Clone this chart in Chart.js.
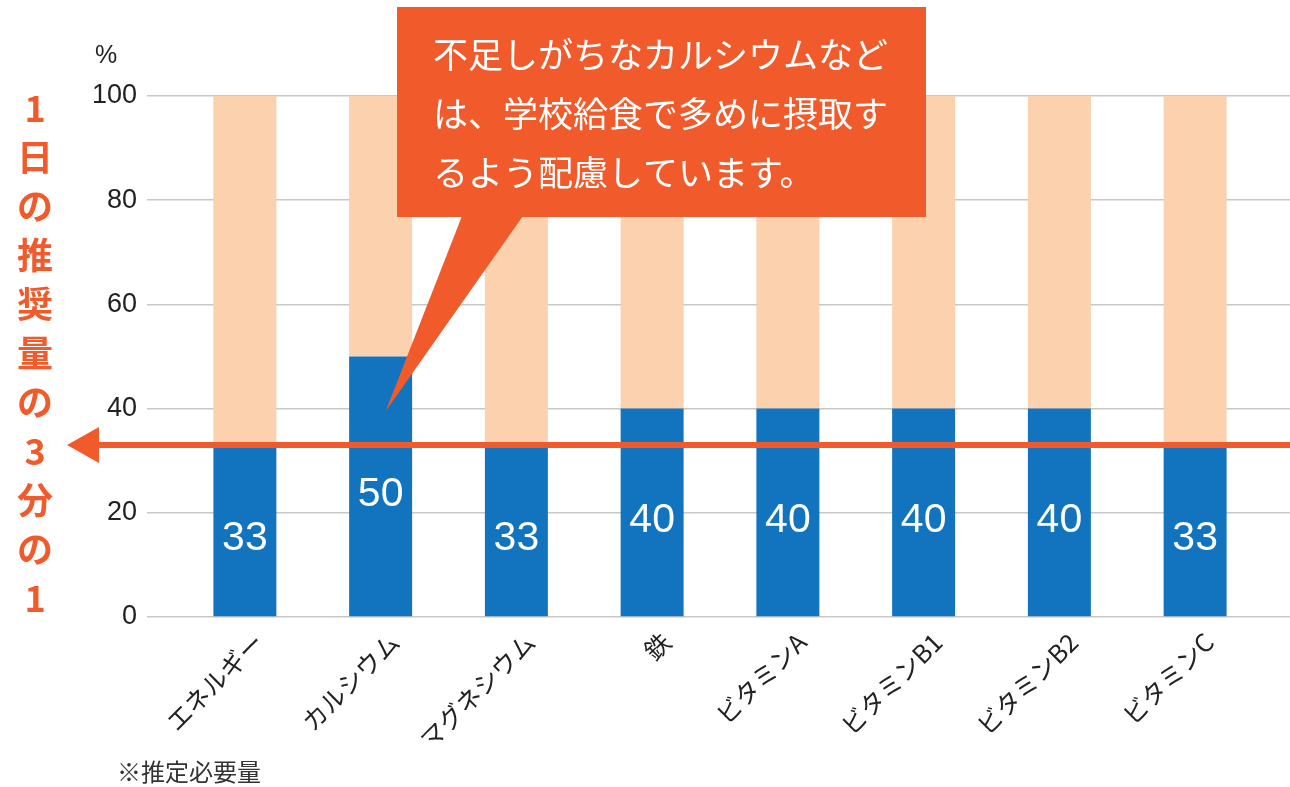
<!DOCTYPE html>
<html>
<head>
<meta charset="utf-8">
<script src="https://cdn.jsdelivr.net/npm/chart.js@4.4.0/dist/chart.umd.min.js"></script>
<style>
  html, body { margin: 0; padding: 0; background: #fff; }
  #wrap { width: 1290px; height: 787px; position: relative; }
</style>
</head>
<body>
<div id="wrap"><canvas id="chart" width="1290" height="787"></canvas></div>
<script>
// data
var categories = ["エネルギー", "カルシウム", "マグネシウム", "鉄", "ビタミンA", "ビタミンB1", "ビタミンB2", "ビタミンC"];
var intakeValues = [33, 50, 33, 40, 40, 40, 40, 33];
var restValues = [67, 50, 67, 60, 60, 60, 60, 67];
var targetLine = 33;
var sideLabel = ["1", "日", "の", "推", "奨", "量", "の", "3", "分", "の", "1"];
var calloutLines = ["不足しがちなカルシウムなど", "は、学校給食で多めに摂取す", "るよう配慮しています。"];
var unitLabel = "%";
var footnote = "※推定必要量";

var BLUE = "#1273be";
var PEACH = "#fbd1ae";
var ORANGE = "#f15a2b";
var GRID = "#c8c8c8";
var JP = '"Noto Sans CJK JP", "Noto Sans", sans-serif';
var NUM = '"Liberation Sans", Arial, sans-serif';

var overlay = {
  id: "overlay",
  afterDatasetsDraw: function (chart) {
    var ctx = chart.ctx;
    var x = chart.scales.x;
    var y = chart.scales.y;
    ctx.save();

    // numbers inside the blue bars
    var meta = chart.getDatasetMeta(0);
    ctx.fillStyle = "#fff";
    ctx.font = "41px " + NUM;
    ctx.textAlign = "center";
    ctx.textBaseline = "middle";
    meta.data.forEach(function (bar, i) {
      ctx.fillText(String(intakeValues[i]), bar.x, (bar.y + bar.base) / 2 + 8);
    });

    // 1/3 arrow
    var ay = y.getPixelForValue(targetLine);
    ctx.strokeStyle = ORANGE;
    ctx.fillStyle = ORANGE;
    ctx.lineWidth = 6;
    ctx.beginPath();
    ctx.moveTo(95, ay);
    ctx.lineTo(chart.width, ay);
    ctx.stroke();
    ctx.beginPath();
    ctx.moveTo(67, ay);
    ctx.lineTo(99, ay - 18);
    ctx.lineTo(99, ay + 18);
    ctx.closePath();
    ctx.fill();

    // callout box with pointer to calcium bar
    var tipX = x.getPixelForValue(1) + 5;
    var tipY = y.getPixelForValue(39.5);
    ctx.beginPath();
    ctx.moveTo(462, 216);
    ctx.lineTo(tipX, tipY);
    ctx.lineTo(523, 216);
    ctx.closePath();
    ctx.fill();
    ctx.fillRect(397, 7, 529, 210);
    ctx.fillStyle = "#fff";
    ctx.font = "35px " + JP;
    ctx.textAlign = "left";
    calloutLines.forEach(function (line, i) {
      ctx.fillText(line, 433, 55 + i * 59);
    });

    // vertical side label
    ctx.fillStyle = ORANGE;
    ctx.font = "bold 36px " + JP;
    ctx.textAlign = "center";
    sideLabel.forEach(function (ch, i) {
      ctx.fillText(ch, 35, 108 + i * 49);
    });

    // unit and footnote
    ctx.fillStyle = "#222";
    ctx.font = "25px " + NUM;
    ctx.fillText(unitLabel, 106, 56);
    ctx.fillStyle = "#333";
    ctx.font = "24px " + JP;
    ctx.textAlign = "left";
    ctx.fillText(footnote, 117, 772);

    ctx.restore();
  }
};

var chart = new Chart(document.getElementById("chart").getContext("2d"), {
  type: "bar",
  data: {
    labels: categories,
    datasets: [
      { label: "intake", data: intakeValues, backgroundColor: BLUE, barPercentage: 0.464, categoryPercentage: 1 },
      { label: "rest", data: restValues, backgroundColor: PEACH, barPercentage: 0.464, categoryPercentage: 1 }
    ]
  },
  options: {
    responsive: false,
    animation: false,
    layout: { padding: { top: 96, left: 0, right: 0, bottom: 0 } },
    plugins: { legend: { display: false }, tooltip: { enabled: false } },
    scales: {
      x: {
        stacked: true,
        grid: { display: false },
        border: { display: false },
        ticks: {
          autoSkip: false,
          maxRotation: 45,
          minRotation: 45,
          padding: 2,
          labelOffset: 14,
          color: "#222",
          font: { size: 25, family: JP }
        },
        afterFit: function (s) { s.height = 170; }
      },
      y: {
        stacked: true,
        min: 0,
        max: 100,
        grid: { color: GRID, lineWidth: 1.5, tickLength: 30 },
        border: { display: false },
        ticks: { stepSize: 20, padding: 10, color: "#222", font: { size: 27, family: NUM } },
        afterFit: function (s) { s.width = 177; }
      },
      y2: {
        position: "right",
        min: 0,
        max: 100,
        grid: { drawOnChartArea: false, color: GRID, lineWidth: 1.5, tickLength: 27 },
        border: { display: false },
        ticks: { stepSize: 20, display: false },
        afterFit: function (s) { s.width = 27; }
      }
    }
  },
  plugins: [overlay]
});
</script>
</body>
</html>
